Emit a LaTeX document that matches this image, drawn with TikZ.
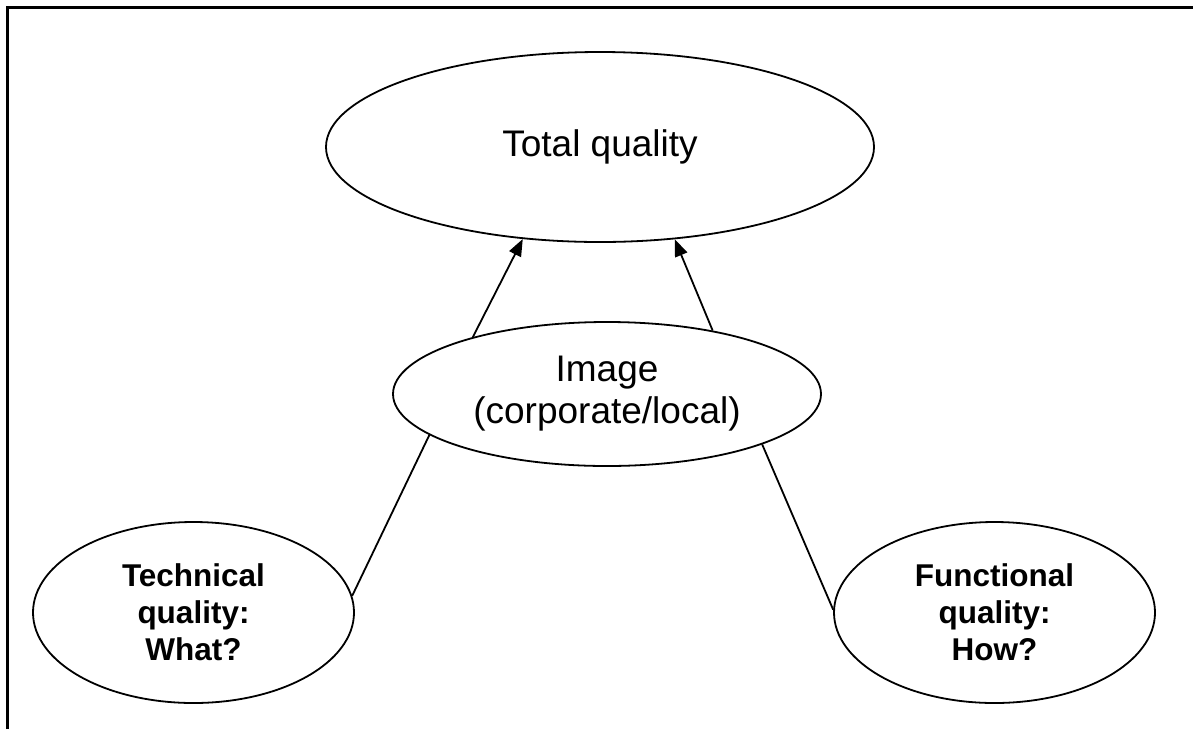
\documentclass[tikz,border=0pt]{standalone}
\usepackage{fontspec}
\setmainfont{Liberation Sans}
\usetikzlibrary{arrows.meta,shapes.geometric}
\tikzset{
  bubble/.style={draw, ellipse, line width=1.8pt, inner sep=0pt, align=center},
  bigtext/.style={font=\fontsize{37pt}{42pt}\selectfont},
  boldtext/.style={font=\fontsize{31.5pt}{37pt}\selectfont\bfseries},
  conn/.style={line width=1.8pt},
  arr/.style={conn, -{Triangle[length=17pt,width=13pt]}},
  frameline/.style={line width=2.5pt}
}
\begin{document}
\begin{tikzpicture}[x=1pt,y=-1pt]
\useasboundingbox (0,0) rectangle (1193,729);
\draw[frameline] (7.5,729) -- (7.5,7.5) -- (1193,7.5);

\node[bubble, bigtext, minimum width=548pt, minimum height=190pt] (tot) at (600,147) {Total quality};
\node[bubble, bigtext, minimum width=428pt, minimum height=144pt] (img) at (607,394) {Image\\(corporate/local)};
\node[bubble, boldtext, minimum width=321pt, minimum height=181pt] (tech) at (193.5,612.5) {Technical\\quality:\\What?};
\node[bubble, boldtext, minimum width=321pt, minimum height=181pt] (func) at (994.5,612.5) {Functional\\quality:\\How?};

\draw[arr] (img.157.9) -- (tot.230.4);
\draw[arr] (img.31.9) -- (tot.-51.6);
\draw[conn] (tech.6.3) -- (img.193.2);
\draw[conn] (func.179) -- (img.-18.1);
\end{tikzpicture}
\end{document}
